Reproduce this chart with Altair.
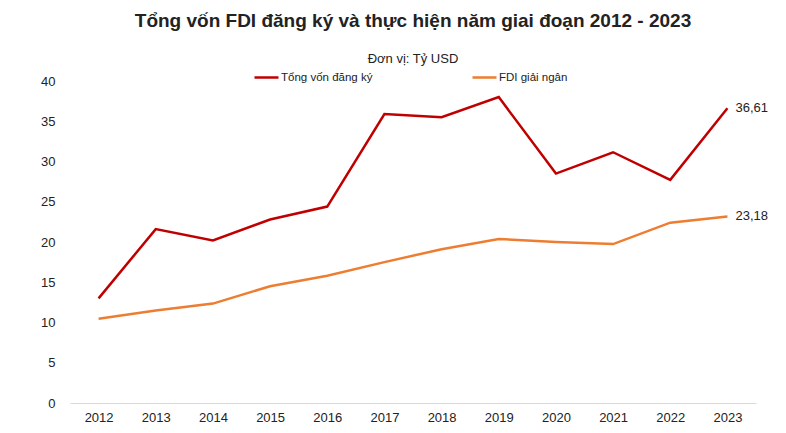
import altair as alt
import pandas as pd

years = ["2012", "2013", "2014", "2015", "2016", "2017", "2018", "2019", "2020", "2021", "2022", "2023"]
registered = [13.0, 21.6, 20.2, 22.8, 24.4, 35.9, 35.5, 38.0, 28.5, 31.15, 27.72, 36.61]
disbursed = [10.46, 11.5, 12.35, 14.5, 15.8, 17.5, 19.1, 20.38, 20.0, 19.74, 22.4, 23.18]
series_names = ["Tổng vốn đăng ký", "FDI giải ngân"]
colors = ["#C00000", "#ED7D31"]

rows = []
for name, vals in zip(series_names, [registered, disbursed]):
    for y, v in zip(years, vals):
        rows.append({"year": y, "value": v, "series": name,
                     "label": f"{v:.2f}".replace(".", ",")})
df = pd.DataFrame(rows)

FONT = "Liberation Sans"

x = alt.X("year:O", title=None,
          scale=alt.Scale(type="point", padding=0.5),
          axis=alt.Axis(labelAngle=0, ticks=False, domainColor="#d9d9d9", grid=False,
                        labelFontSize=13, labelColor="#222", labelPadding=8,
                        labelFont=FONT))
y = alt.Y("value:Q", title=None,
          scale=alt.Scale(domain=[0, 40], nice=False),
          axis=alt.Axis(values=list(range(0, 41, 5)), ticks=False, domain=False,
                        grid=False, labelFontSize=13, labelColor="#222",
                        labelPadding=15, labelFont=FONT))
color = alt.Color("series:N",
                  scale=alt.Scale(domain=series_names, range=colors),
                  legend=alt.Legend(title=None, orient="none", direction="horizontal",
                                    legendX=183, legendY=-17,
                                    symbolType="stroke", symbolSize=576,
                                    symbolStrokeWidth=2.5, labelFontSize=11.5,
                                    labelFont=FONT, labelColor="#222",
                                    labelOffset=1, columnPadding=94))

lines = alt.Chart(df).mark_line(strokeWidth=2.5).encode(x=x, y=y, color=color)

end = alt.Chart(df[df["year"] == "2023"]).mark_text(
    align="left", dx=8, fontSize=13, font=FONT, color="#222"
).encode(x=x, y=y, text="label:N")

chart = (lines + end).properties(
    width=686, height=322,
    background="white",
    title=alt.TitleParams(
        text="Tổng vốn FDI đăng ký và thực hiện năm giai đoạn 2012 - 2023",
        subtitle="Đơn vị: Tỷ USD",
        font=FONT, fontSize=19, fontWeight="bold", color="#222",
        subtitleFont=FONT, subtitleFontSize=13, subtitleColor="#222",
        subtitlePadding=22, anchor="middle", offset=-2),
    autosize=alt.AutoSizeParams(type="none"),
    padding={"left": 62, "top": 73, "right": 22, "bottom": 22},
).configure_view(stroke=None).configure_axis(grid=False)

chart.save("out.html", embed_options={"renderer": "svg", "actions": False})
